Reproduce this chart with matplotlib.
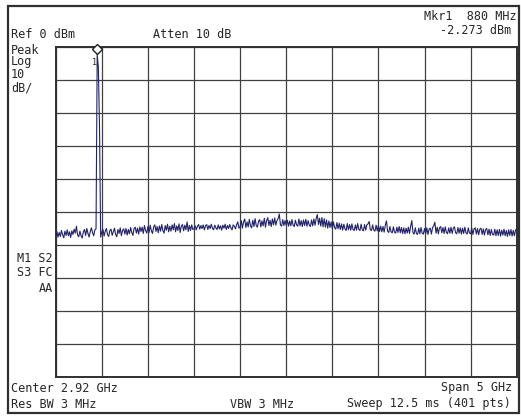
import numpy as np
import matplotlib.pyplot as plt
from matplotlib.patches import Rectangle

# sweep settings
center_ghz = 2.92
span_ghz = 5.0
ref_dbm = 0
db_per_div = 10
mkr_label = "Mkr1  880 MHz"
mkr_value = "-2.273 dBm"
peak_idx = 36   # sweep point carrying the marker

# 401-point trace in dBm
trace_dbm = [
    -57.3, -55.9, -57.6, -56.2, -57.4, -55.6, -56.9, -57.8, -55.8, -57.1, -55.4, -57.2, -56.0, -57.7, -55.7, -56.8, -55.2, -56.4, -54.3, -57.0,
    -57.5, -55.8, -57.2, -57.9, -56.0, -55.3, -57.1, -55.0, -56.5, -57.6, -55.9, -54.8, -56.3, -57.2, -55.4, -55.1, -2.273, -6.0, -24.0, -57.6,
    -56.0, -55.3, -57.3, -55.8, -55.0, -56.9, -57.4, -55.6, -55.2, -57.1, -56.0, -54.9, -56.8, -57.5, -55.3, -56.5, -54.8, -57.2, -55.6, -55.1,
    -56.7, -55.0, -57.0, -55.3, -56.6, -54.7, -56.2, -57.1, -55.0, -54.6, -56.4, -54.9, -56.7, -54.5, -55.9, -54.6, -56.5, -54.1, -55.6, -56.4,
    -54.4, -56.2, -54.0, -55.7, -56.5, -54.5, -53.9, -55.9, -54.4, -56.3, -54.2, -55.8, -53.8, -55.6, -56.4, -54.1, -55.5, -53.7, -56.0, -54.3,
    -55.8, -53.9, -55.4, -53.5, -56.0, -54.2, -55.6, -53.6, -56.2, -54.3, -53.8, -55.7, -54.0, -55.4, -53.0, -55.9, -54.1, -55.6, -53.9, -55.3,
    -55.1, -54.2, -55.4, -54.3, -53.8, -55.2, -54.1, -55.0, -53.9, -55.4, -54.2, -53.8, -55.3, -54.1, -55.0, -53.7, -54.9, -55.4, -54.0, -54.8,
    -55.3, -53.9, -55.1, -54.2, -55.5, -54.0, -54.9, -53.7, -55.3, -54.1, -55.0, -53.8, -54.8, -55.4, -53.9, -54.3, -55.1, -53.8, -53.0, -54.9,
    -54.5, -52.6, -54.9, -53.0, -52.1, -54.7, -53.0, -54.5, -52.2, -54.2, -54.8, -52.5, -54.4, -52.0, -54.1, -54.6, -52.8, -52.3, -54.5, -52.7,
    -54.2, -51.9, -54.6, -52.6, -51.7, -54.1, -52.5, -54.4, -52.1, -53.9, -51.8, -54.0, -52.6, -52.0, -50.6, -53.9, -54.3, -52.3, -54.1, -52.6,
    -54.0, -52.5, -54.3, -52.7, -54.2, -52.3, -54.0, -54.4, -52.5, -53.9, -54.3, -52.1, -54.2, -52.6, -54.4, -52.4, -54.1, -52.2, -54.3, -52.6,
    -53.9, -54.4, -52.4, -54.2, -52.1, -54.0, -52.0, -50.8, -53.8, -51.9, -54.3, -51.7, -54.5, -52.0, -54.6, -52.4, -54.9, -52.7, -54.7, -53.0,
    -55.0, -53.0, -54.8, -55.2, -53.2, -55.1, -53.4, -55.3, -53.6, -55.5, -53.7, -55.1, -55.6, -53.5, -55.4, -53.8, -55.5, -53.6, -55.3, -55.6,
    -53.9, -55.5, -53.5, -55.3, -55.6, -53.7, -55.4, -55.7, -53.8, -55.5, -53.9, -53.6, -52.9, -55.4, -55.6, -53.9, -55.5, -55.8, -54.0, -55.7,
    -54.1, -55.9, -54.3, -56.0, -54.4, -56.1, -54.0, -52.7, -55.8, -56.2, -54.4, -56.0, -56.3, -54.5, -56.1, -56.4, -54.6, -56.2, -54.4, -56.3,
    -54.7, -56.5, -54.8, -56.6, -54.9, -56.4, -54.6, -56.5, -54.3, -52.6, -56.3, -56.7, -54.8, -56.5, -56.8, -54.9, -56.6, -54.7, -56.4, -56.7,
    -55.0, -56.6, -54.8, -56.8, -55.2, -54.9, -56.7, -54.7, -54.2, -53.1, -56.4, -54.6, -56.6, -54.8, -54.4, -56.3, -54.7, -56.5, -54.5, -56.2,
    -56.6, -54.8, -56.4, -54.6, -56.5, -54.9, -54.5, -56.3, -56.6, -54.7, -56.4, -54.8, -56.7, -54.9, -56.5, -54.6, -56.3, -56.7, -54.8, -56.4,
    -56.6, -54.9, -56.8, -55.1, -54.8, -56.7, -55.0, -56.9, -55.2, -54.9, -56.8, -55.1, -57.0, -55.3, -55.0, -56.9, -55.2, -57.1, -55.3, -56.8,
    -57.0, -55.2, -57.2, -55.4, -57.1, -55.3, -57.3, -55.5, -57.0, -55.2, -57.2, -55.6, -57.4, -55.4, -57.1, -55.3, -57.3, -55.6, -57.2, -55.5,
    -55.0,
]

f_start = center_ghz - span_ghz / 2
f_stop = center_ghz + span_ghz / 2
freqs = np.linspace(f_start, f_stop, len(trace_dbm))

ink = "#262626"
mono = "DejaVu Sans Mono"
fs = 8.5

fig = plt.figure(figsize=(5.21, 4.18), dpi=100)
fig.patch.set_facecolor("white")

# outer screen frame
fig.patches.append(Rectangle((8 / 521, 5 / 418), 511 / 521, 407 / 418,
                             transform=fig.transFigure, fill=False,
                             edgecolor="#303030", linewidth=1.6))

ax = fig.add_axes([55.7 / 521, 41 / 418, 461 / 521, 330 / 418])
ax.set_facecolor("white")
ax.set_xlim(f_start, f_stop)
ax.set_ylim(ref_dbm - 10 * db_per_div, ref_dbm)
ax.set_xticks(np.linspace(f_start, f_stop, 11))
ax.set_yticks(np.linspace(ref_dbm - 10 * db_per_div, ref_dbm, 11))
ax.grid(True, color="#404040", linewidth=0.9)
ax.tick_params(length=0, labelbottom=False, labelleft=False)
for s in ax.spines.values():
    s.set_color("#303030")
    s.set_linewidth(1.4)

ax.plot(freqs, trace_dbm, color="#22226a", linewidth=0.8, zorder=3)
ax.plot(freqs[peak_idx], trace_dbm[peak_idx] + 1.7, marker="D", markersize=5.5,
        markerfacecolor="white", markeredgecolor="#202020", markeredgewidth=1.0,
        zorder=4, clip_on=False)
ax.text(freqs[peak_idx] - 0.025, -4.6, "1", fontsize=6,
        family=mono, color=ink, ha="center", va="center")

def put(x, y, s, ha="left"):
    fig.text(x / 521, 1 - y / 418, s, fontsize=fs, family=mono, color=ink,
             ha=ha, va="center")

put(517, 16, mkr_label, ha="right")
put(511, 31, mkr_value, ha="right")
put(11, 35, f"Ref {ref_dbm} dBm")
put(153, 35, "Atten 10 dB")
put(11, 50, "Peak")
put(11, 62, "Log")
put(11, 75, "10")
put(11, 88, "dB/")
put(53, 258, "M1 S2", ha="right")
put(53, 273, "S3 FC", ha="right")
put(53, 288, "AA", ha="right")
put(11, 388, f"Center {center_ghz} GHz")
put(512, 388, f"Span {span_ghz:g} GHz", ha="right")
put(11, 404, "Res BW 3 MHz")
put(230, 404, "VBW 3 MHz")
put(511, 404, f"Sweep 12.5 ms ({len(trace_dbm)} pts)", ha="right")

fig.savefig("out.png", dpi=100)
